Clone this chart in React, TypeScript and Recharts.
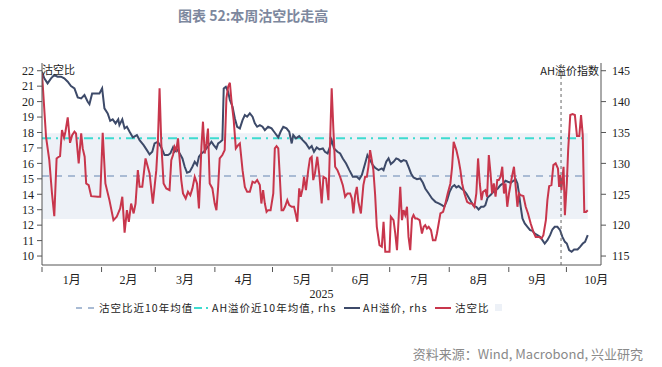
import React from "react";
import { LineChart, Line, XAxis, YAxis, ReferenceArea, ReferenceLine } from "recharts";

// day index counted from 2025-01-01
const monthStarts = [0, 31, 59, 90, 120, 151, 181, 212, 243, 273];
const monthMids = [15.5, 45, 74.5, 105, 135.5, 166, 196.5, 227.5, 258, 288.5];
const monthLabels = ["1月", "2月", "3月", "4月", "5月", "6月", "7月", "8月", "9月", "10月"];
const leftTicks = [10, 11, 12, 13, 14, 15, 16, 17, 18, 19, 20, 21, 22];
const rightTicks = [115, 120, 125, 130, 135, 140, 145];

const shortMean = 15.18;
const ahMean = 134.05;
const bandLow = 12.4;
const bandHigh = 17.95;
const markerDay = 270.2;

const shortDays = [
  0, 2.1, 3.8, 5.2, 6.4, 7.6, 8.7, 9.4, 10.4, 11.5, 12.2, 13.4, 14.6, 15.7, 16.9, 17.7, 19.1, 20.4, 21.2, 22.2,
  23.0, 24.3, 25.6, 29.0, 30.3, 31.6, 33.0, 35.1, 37.2, 38.9, 40.7, 41.8, 43.0, 44.2, 45.2, 46.4, 47.7, 48.7, 49.9, 50.8,
  52.2, 53.9, 56.0, 57.7, 58.6, 59.5, 60.3, 61.2, 62.1, 63.3, 64.7, 66.4, 67.3, 68.2, 69.0, 69.9, 70.8, 71.7, 72.5, 73.4,
  74.8, 76.0, 77.2, 78.3, 79.5, 80.7, 81.7, 83.0, 83.8, 84.7, 85.6, 86.4, 87.3, 88.7, 89.9, 90.8, 91.7, 92.5, 93.9, 95.1,
  96.0, 96.9, 97.8, 98.6, 99.8, 100.9, 102.1, 103.0, 104.4, 105.6, 106.8, 108.2, 109.6, 110.8, 112.0, 113.4, 114.2, 115.1, 116.0, 116.9,
  117.7, 119.0, 120.4, 121.2, 122.1, 123.0, 123.8, 124.7, 125.6, 126.5, 127.7, 128.7, 130.0, 131.2, 132.2, 132.9, 133.9, 134.7, 135.7, 136.4,
  137.4, 138.6, 139.5, 140.4, 141.2, 142.1, 143.3, 144.4, 145.6, 146.5, 147.9, 149.1, 149.9, 150.8, 151.7, 152.6, 153.8, 155.2, 156.6, 157.8,
  159.0, 160.4, 161.3, 162.1, 163.0, 163.9, 164.7, 166.0, 167.3, 168.2, 169.1, 169.9, 170.8, 171.7, 172.5, 173.4, 174.3, 175.7, 176.9, 177.8,
  178.7, 179.9, 180.9, 181.6, 183.0, 183.9, 184.8, 185.6, 186.5, 187.4, 188.2, 189.1, 190.0, 190.8, 191.7, 192.6, 193.4, 194.3, 195.2, 196.6,
  197.8, 198.7, 199.5, 200.4, 201.3, 202.5, 203.5, 204.8, 205.6, 206.5, 207.4, 208.8, 210.0, 211.2, 212.6, 213.5, 214.3, 215.7, 216.9, 217.8,
  218.7, 219.9, 221.3, 222.7, 223.9, 225.1, 226.1, 227.0, 227.9, 228.8, 229.6, 230.8, 231.7, 232.6, 233.5, 234.3, 235.2, 236.1, 237.0, 237.8,
  238.7, 239.6, 240.5, 241.3, 242.2, 243.1, 244.0, 244.8, 245.7, 246.6, 247.5, 248.3, 249.2, 250.6, 251.8, 253.0, 254.4, 255.8, 257.0, 258.7,
  260.0, 261.0, 262.3, 263.1, 264.0, 265.2, 266.2, 267.4, 268.6, 269.2, 269.7, 270.4, 271.5, 272.2, 273.2, 273.9, 275.0, 276.2, 277.4, 278.5,
  279.7, 280.6, 281.5, 282.3, 283.2, 284.1,
];
const shortRatio = [
  21.83, 17.72, 16.21, 14.05, 12.58, 16.32, 16.43, 16.47, 18.16, 17.68, 18.05, 18.98, 17.33, 17.83, 18.05, 17.94, 16.0, 17.94, 16.97, 16.43,
  14.7, 14.59, 13.88, 13.84, 13.84, 17.98, 14.7, 13.62, 12.32, 12.54, 13.08, 13.84, 11.52, 12.97, 12.22, 13.4, 12.76, 13.4, 15.56, 14.48,
  14.48, 16.32, 15.35, 13.4, 14.48, 15.56, 17.29, 20.86, 17.29, 14.7, 14.38, 14.27, 16.21, 16.54, 17.08, 16.86, 17.62, 16.21, 14.92, 14.05,
  13.73, 14.16, 13.94, 14.38, 15.13, 14.7, 13.08, 17.08, 18.7, 16.64, 17.29, 18.26, 14.7, 14.38, 13.4, 12.97, 14.48, 16.32, 16.54, 16.86,
  20.21, 20.96, 21.22, 20.1, 18.8, 16.97, 17.18, 17.29, 15.56, 14.48, 14.16, 14.16, 14.81, 14.74, 14.92, 14.59, 13.4, 14.27, 13.4, 12.86,
  12.97, 12.97, 14.05, 16.97, 17.12, 16.97, 15.13, 12.97, 12.97, 13.19, 13.62, 13.3, 13.19, 13.19, 12.65, 12.22, 14.38, 13.84, 14.38, 15.13,
  14.27, 15.56, 16.32, 16.43, 14.92, 15.35, 16.43, 15.24, 13.4, 15.13, 15.02, 13.62, 17.08, 20.86, 18.16, 15.78, 15.56, 15.13, 14.59, 13.84,
  14.05, 14.05, 13.73, 12.76, 13.94, 14.48, 13.51, 12.76, 14.59, 15.13, 15.13, 15.78, 16.86, 16.21, 15.56, 14.0, 11.89, 10.7, 10.6, 12.22,
  10.27, 10.27, 10.27, 12.54, 12.32, 11.46, 10.38, 12.32, 14.48, 12.32, 12.97, 12.65, 13.19, 11.24, 10.38, 12.43, 12.65, 12.43, 12.43, 12.32,
  11.46, 11.89, 12.0, 11.78, 11.89, 11.68, 11.03, 11.03, 11.46, 12.11, 12.76, 12.86, 13.4, 14.05, 14.7, 15.78, 17.4, 16.86, 16.21, 15.56,
  14.7, 14.05, 13.51, 13.4, 13.4, 13.19, 14.05, 16.32, 14.7, 13.62, 14.16, 14.27, 13.84, 16.54, 15.35, 14.05, 14.7, 13.84, 14.92, 14.92,
  15.13, 15.78, 14.05, 14.7, 13.19, 14.05, 14.7, 15.24, 15.78, 14.48, 13.19, 14.05, 13.94, 13.88, 13.19, 12.76, 12.11, 11.57, 11.24, 11.24,
  11.14, 11.35, 12.32, 13.62, 14.53, 14.59, 15.89, 16.0, 15.67, 14.48, 15.24, 14.27, 15.78, 12.65, 14.7, 16.86, 19.13, 19.19, 19.13, 17.77,
  17.77, 19.13, 17.83, 12.86, 12.86, 12.97,
];

const ahDays = [
  0, 1.2, 2.9, 4.7, 6.4, 8.1, 9.9, 11.6, 13.4, 15.1, 16.9, 18.6, 20.4, 22.1, 23.8, 24.7, 26.1, 28.2, 29.9, 31.3,
  32.5, 34.2, 35.5, 36.8, 38.3, 39.7, 40.3, 41.8, 43.0, 44.2, 45.6, 47.3, 49.4, 50.8, 52.9, 54.6, 56.0, 57.4, 58.6, 60.3,
  62.1, 63.8, 65.6, 66.8, 68.2, 69.0, 70.3, 71.7, 73.1, 74.3, 75.5, 76.9, 78.3, 79.5, 80.7, 81.7, 83.0, 84.2, 85.6, 87.0,
  88.2, 89.4, 90.8, 91.7, 92.9, 93.9, 94.6, 95.7, 96.9, 97.8, 99.2, 100.4, 101.6, 103.0, 104.4, 105.6, 106.8, 108.2, 109.6, 110.8,
  112.0, 113.4, 114.8, 116.0, 117.7, 119.5, 121.2, 123.0, 124.2, 125.6, 127.3, 128.7, 130.0, 130.8, 132.2, 133.9, 135.7, 137.4, 139.1, 140.4,
  141.6, 143.0, 144.4, 146.2, 147.3, 148.7, 149.9, 150.8, 152.0, 153.8, 155.2, 156.6, 158.3, 160.0, 161.8, 163.9, 165.2, 166.5, 168.2, 169.4,
  170.8, 172.2, 173.4, 175.2, 176.9, 177.8, 179.2, 180.4, 181.6, 183.0, 184.4, 185.6, 186.9, 188.2, 189.6, 190.8, 192.1, 193.4, 195.2, 196.9,
  198.3, 199.5, 201.3, 203.0, 204.8, 206.5, 208.2, 209.4, 210.9, 212.2, 213.5, 214.7, 215.7, 216.9, 218.2, 219.5, 220.9, 222.1, 223.4, 224.8,
  226.1, 227.3, 228.6, 229.9, 230.8, 232.0, 233.5, 234.9, 236.1, 237.3, 238.7, 240.1, 241.3, 242.5, 244.0, 245.4, 246.6, 247.5, 248.3, 249.2,
  250.1, 251.3, 252.7, 254.1, 255.3, 256.5, 257.9, 259.2, 260.5, 261.7, 263.1, 264.5, 265.7, 266.9, 268.3, 269.7, 270.9, 272.2, 273.2, 274.4,
  275.7, 277.0, 278.8, 280.1, 281.5, 282.7, 284.1,
];
const ahPremium = [
  144.84, 143.76, 142.95, 143.76, 144.3, 144.03, 144.03, 143.76, 143.22, 142.52, 142.14, 140.68, 140.52, 141.06, 139.98, 139.6, 141.33, 141.33, 141.33, 142.14,
  138.9, 138.09, 136.9, 137.12, 136.47, 137.12, 136.2, 137.12, 135.66, 135.93, 135.12, 134.2, 134.58, 133.77, 132.96, 132.15, 131.45, 131.88, 133.23, 133.5,
  132.58, 131.34, 131.34, 131.61, 132.58, 131.88, 132.26, 131.61, 130.8, 129.45, 128.48, 128.64, 129.45, 130.26, 129.72, 131.07, 131.61, 131.88, 132.42, 132.96,
  133.5, 132.96, 132.42, 133.23, 133.5, 133.77, 142.14, 142.41, 141.6, 140.25, 139.17, 137.28, 135.93, 135.66, 137.01, 137.82, 137.55, 138.09, 137.55, 136.47,
  135.93, 136.2, 135.93, 135.39, 135.93, 135.66, 134.96, 134.2, 135.12, 135.93, 135.66, 135.12, 133.23, 134.58, 134.04, 134.42, 133.77, 133.23, 132.42, 132.8,
  131.88, 132.58, 132.26, 132.42, 131.88, 131.61, 132.69, 133.77, 132.42, 131.88, 131.61, 130.8, 129.99, 128.91, 127.83, 127.83, 127.45, 128.1, 129.99, 131.34,
  130.53, 129.72, 129.3, 128.91, 129.18, 128.91, 130.26, 130.8, 129.88, 130.26, 130.8, 130.64, 130.26, 130.53, 130.37, 129.45, 128.37, 127.72, 127.45, 127.56,
  126.86, 125.94, 125.13, 124.32, 123.78, 123.51, 123.24, 122.97, 124.05, 125.4, 126.21, 126.48, 126.1, 126.32, 125.94, 125.67, 125.13, 124.48, 123.78, 123.08,
  122.97, 122.54, 122.97, 122.97, 123.24, 124.48, 124.86, 125.4, 125.67, 125.94, 126.48, 126.75, 127.18, 127.02, 126.86, 127.18, 127.4, 126.75, 125.13, 122.97,
  121.08, 120.27, 119.73, 119.19, 119.08, 118.65, 118.38, 118.11, 117.57, 117.03, 117.57, 118.38, 119.3, 119.73, 119.73, 119.19, 118.11, 117.3, 117.03, 115.95,
  115.68, 116.06, 116.06, 116.49, 117.03, 117.3, 118.38,
];

const shortData = shortDays.map((d, i) => ({ day: d, v: shortRatio[i] }));
const ahData = ahDays.map((d, i) => ({ day: d, v: ahPremium[i] }));
const lastDay = shortDays[shortDays.length - 1];
const shortMeanData = [{ day: 0, v: shortMean }, { day: lastDay, v: shortMean }];
const ahMeanData = [{ day: 0, v: ahMean }, { day: lastDay, v: ahMean }];

const xTicks = [...monthStarts, ...monthMids].sort((a, b) => a - b);

const RED = "#c8364c";
const NAVY = "#3d4a69";
const TEAL = "#3edbd0";
const LIGHTBLUE = "#a9bbd4";
const BAND = "#edf1f7";
const AXIS = "#555";
const serif = "'Liberation Serif', 'Noto Sans CJK SC', serif";
const cjk = "'Noto Sans CJK SC', sans-serif";

const MonthTick = (props: any) => {
  const { x, y, payload } = props;
  const mi = monthMids.indexOf(payload.value);
  if (mi < 0) {
    return <line x1={x} x2={x} y1={y} y2={y + 5} stroke={AXIS} strokeWidth={1} />;
  }
  return (
    <text x={x} y={y + 17} textAnchor="middle" fontSize={12} fill="#222" fontFamily={serif}>
      {monthLabels[mi]}
    </text>
  );
};

const legendText: React.CSSProperties = {
  position: "absolute",
  top: 300,
  fontSize: 10.5,
  letterSpacing: 1,
  fontFamily: cjk,
  color: "#222",
  lineHeight: "15px",
  whiteSpace: "nowrap",
};

const Icon = ({ left, children }: { left: number; children: React.ReactNode }) => (
  <svg style={{ position: "absolute", left, top: 302 }} width={20} height={12}>
    {children}
  </svg>
);

export default function App() {
  return (
    <div style={{ position: "fixed", left: 0, top: 0, width: 662, height: 367, background: "#fff", overflow: "hidden" }}>
      <div
        style={{
          position: "absolute",
          left: 178,
          top: 5,
          fontSize: 14,
          fontWeight: 700,
          color: "#7d889e",
          fontFamily: cjk,
          whiteSpace: "nowrap",
        }}
      >
        图表 52:本周沽空比走高
      </div>

      <div style={{ position: "absolute", left: 0, top: 0 }}>
        <LineChart width={662} height={367} margin={{ top: 63, right: 0, bottom: 69, left: 0 }}>
          <XAxis
            xAxisId="d"
            dataKey="day"
            type="number"
            domain={[0, 291]}
            allowDataOverflow
            ticks={xTicks}
            interval={0}
            tickSize={0}
            tickLine={false}
            axisLine={{ stroke: AXIS }}
            tick={(p: any) => <MonthTick {...p} />}
            height={33}
            label={{ value: "2025", position: "insideBottom", offset: 0, fontSize: 12, fill: "#222", fontFamily: serif }}
          />
          <YAxis
            yAxisId="l"
            type="number"
            domain={[9.42, 22.5]}
            allowDataOverflow
            ticks={leftTicks}
            interval={0}
            width={42}
            tickSize={5}
            tickMargin={3}
            axisLine={{ stroke: AXIS }}
            tickLine={{ stroke: AXIS }}
            tick={{ fontSize: 12, fill: "#222", fontFamily: serif }}
          />
          <YAxis
            yAxisId="r"
            orientation="right"
            type="number"
            domain={[113.55, 146.25]}
            allowDataOverflow
            ticks={rightTicks}
            interval={0}
            width={61}
            tickSize={5}
            tickMargin={6}
            axisLine={{ stroke: AXIS }}
            tickLine={{ stroke: AXIS }}
            tick={{ fontSize: 12, fill: "#222", fontFamily: serif, textAnchor: "start" }}
          />
          <ReferenceArea
            xAxisId="d"
            yAxisId="l"
            x1={0}
            x2={lastDay}
            y1={bandLow}
            y2={bandHigh}
            fill={BAND}
            fillOpacity={1}
            stroke="none"
          />
          <Line
            xAxisId="d"
            yAxisId="l"
            data={shortMeanData}
            dataKey="v"
            stroke={LIGHTBLUE}
            strokeWidth={2}
            strokeDasharray="7 6"
            dot={false}
            isAnimationActive={false}
          />
          <Line
            xAxisId="d"
            yAxisId="r"
            data={ahMeanData}
            dataKey="v"
            stroke={TEAL}
            strokeWidth={2}
            strokeDasharray="9 5 2 5"
            dot={false}
            isAnimationActive={false}
          />
          <Line
            xAxisId="d"
            yAxisId="r"
            data={ahData}
            dataKey="v"
            stroke={NAVY}
            strokeWidth={2}
            dot={false}
            isAnimationActive={false}
          />
          <Line
            xAxisId="d"
            yAxisId="l"
            data={shortData}
            dataKey="v"
            stroke={RED}
            strokeWidth={2}
            dot={false}
            isAnimationActive={false}
          />
          <ReferenceLine xAxisId="d" yAxisId="l" x={markerDay} stroke="#666" strokeDasharray="3 3" strokeWidth={1} />
        </LineChart>
      </div>

      <div style={{ position: "absolute", left: 42, top: 63, fontSize: 11, fontFamily: cjk, color: "#222", lineHeight: "13px" }}>
        沽空比
      </div>
      <div
        style={{
          position: "absolute",
          right: 63,
          top: 64,
          fontSize: 11,
          fontFamily: cjk,
          color: "#222",
          lineHeight: "13px",
          whiteSpace: "nowrap",
        }}
      >
        AH溢价指数
      </div>

      <Icon left={76}>
        <line x1={0} x2={6} y1={6} y2={6} stroke={LIGHTBLUE} strokeWidth={2} />
        <line x1={12} x2={18} y1={6} y2={6} stroke={LIGHTBLUE} strokeWidth={2} />
      </Icon>
      <div style={{ ...legendText, left: 99 }}>沽空比近10年均值</div>
      <Icon left={194}>
        <line x1={0} x2={8} y1={6} y2={6} stroke={TEAL} strokeWidth={2} />
        <line x1={12} x2={14} y1={6} y2={6} stroke={TEAL} strokeWidth={2} />
      </Icon>
      <div style={{ ...legendText, left: 212 }}>AH溢价近10年均值, rhs</div>
      <Icon left={344}>
        <line x1={0} x2={16} y1={6} y2={6} stroke={NAVY} strokeWidth={2} />
      </Icon>
      <div style={{ ...legendText, left: 363 }}>AH溢价, rhs</div>
      <Icon left={435}>
        <line x1={0} x2={16} y1={6} y2={6} stroke={RED} strokeWidth={2} />
      </Icon>
      <div style={{ ...legendText, left: 455 }}>沽空比</div>
      <div style={{ position: "absolute", left: 495, top: 304, width: 7, height: 7, background: BAND }} />

      <div
        style={{
          position: "absolute",
          right: 19,
          top: 345,
          fontSize: 13,
          fontFamily: cjk,
          color: "#8a8a8a",
          whiteSpace: "nowrap",
          lineHeight: "18px",
        }}
      >
        资料来源：Wind, Macrobond, 兴业研究
      </div>
    </div>
  );
}
